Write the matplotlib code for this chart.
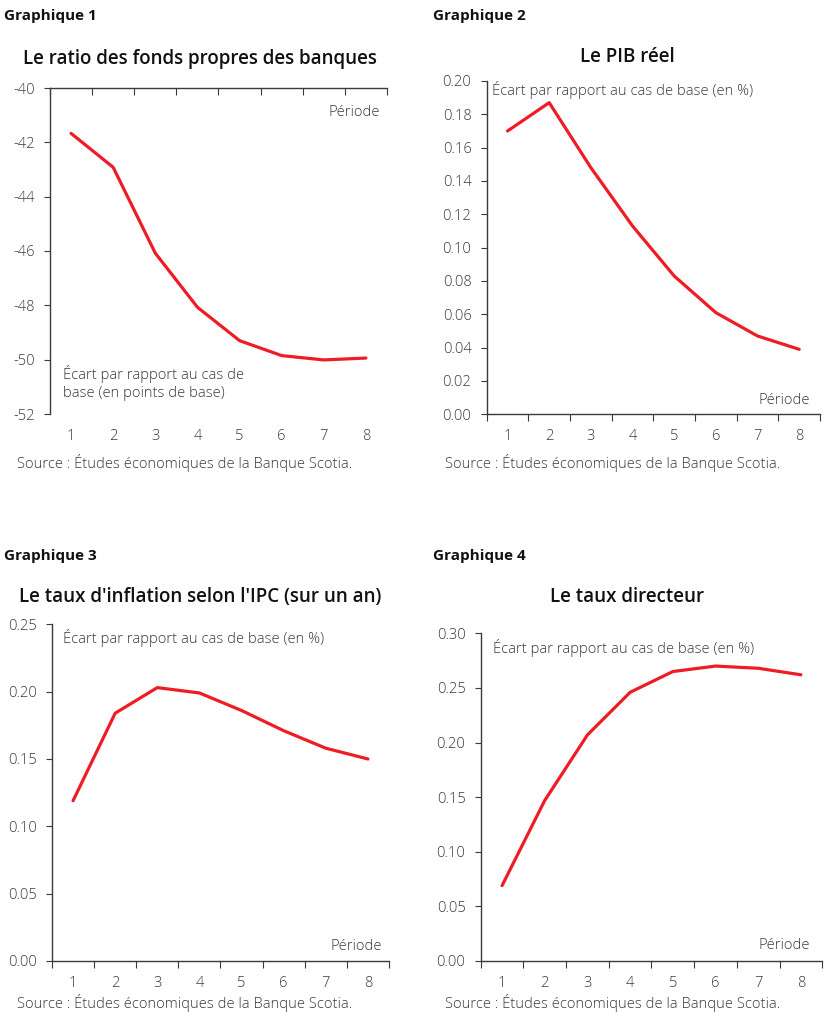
import matplotlib
matplotlib.use('Agg')
import matplotlib.pyplot as plt
import numpy as np

plt.rcParams['font.family'] = ['Open Sans', 'DejaVu Sans']

# Données
periodes = [1, 2, 3, 4, 5, 6, 7, 8]
fonds_propres = [-41.67, -42.92, -46.08, -48.07, -49.30, -49.85, -50.01, -49.94]
pib_reel = [0.170, 0.187, 0.148, 0.113, 0.083, 0.061, 0.047, 0.039]
inflation_ipc = [0.119, 0.184, 0.203, 0.199, 0.186, 0.171, 0.158, 0.150]
taux_directeur = [0.069, 0.147, 0.207, 0.246, 0.265, 0.270, 0.268, 0.262]

source = "Source : Études économiques de la Banque Scotia."
ecart_pct = "Écart par rapport au cas de base (en %)"

W, H = 828, 1023
ROUGE = '#ee1c25'
GRIS = '#3a3a3a'
FS = 10.6
POIDS = 'light'

fig = plt.figure(figsize=(W / 100, H / 100), dpi=100)


def px_axes(left, top, right, bottom):
    return fig.add_axes([left / W, 1 - bottom / H, (right - left) / W, (bottom - top) / H])


def ftext(x, y, s, **kw):
    fig.text(x / W, 1 - y / H, s, **kw)


def style_axes(ax, donnees, yticks, fmt, ylim, axe_haut=False):
    ax.plot(periodes, donnees, color=ROUGE, lw=2.3, solid_capstyle='round')
    ax.set_xlim(0.5, 8.5)
    ax.set_ylim(*ylim)
    ax.set_xticks(np.arange(0.5, 9, 1))
    ax.set_xticklabels([])
    ax.set_xticks(periodes, minor=True)
    ax.set_xticklabels([str(p) for p in periodes], minor=True, fontweight=POIDS)
    ax.set_yticks(yticks)
    ax.set_yticklabels([fmt.format(v) for v in yticks], fontweight=POIDS)
    ax.spines['right'].set_visible(False)
    if axe_haut:
        ax.spines['bottom'].set_visible(False)
        ax.tick_params(axis='x', which='major', top=True, bottom=False,
                       direction='in', length=5, color=GRIS)
    else:
        ax.spines['top'].set_visible(False)
        ax.tick_params(axis='x', which='major', length=5, color=GRIS)
    ax.tick_params(axis='x', which='minor', length=0, pad=10.5,
                   labelsize=FS, labelcolor=GRIS, labelbottom=True)
    ax.tick_params(axis='y', length=4, pad=7, labelsize=FS,
                   labelcolor=GRIS, color=GRIS)
    for s in ax.spines.values():
        s.set_color(GRIS)
        s.set_linewidth(1.0)


def note(ax, x, y, s, ha='left'):
    ax.text(x, y, s, transform=ax.transAxes, ha=ha, va='center', fontsize=FS,
            color=GRIS, fontweight=POIDS, linespacing=1.25)


# Graphique 1
ax1 = px_axes(50, 88, 387, 414)
style_axes(ax1, fonds_propres, np.arange(-52, -39, 2), '{:.0f}', (-52, -40), axe_haut=True)
note(ax1, 0.98, 0.925, 'Période', ha='right')
note(ax1, 0.04, 0.095, 'Écart par rapport au cas de\nbase (en points de base)')

# Graphique 2
ax2 = px_axes(486.7, 81, 820, 414.3)
style_axes(ax2, pib_reel, np.arange(0, 0.201, 0.02), '{:.2f}', (0, 0.20))
note(ax2, 0.97, 0.042, 'Période', ha='right')
note(ax2, 0.015, 0.973, ecart_pct)

# Graphique 3
ax3 = px_axes(52, 624.3, 389, 961)
style_axes(ax3, inflation_ipc, np.arange(0, 0.251, 0.05), '{:.2f}', (0, 0.25))
note(ax3, 0.98, 0.042, 'Période', ha='right')
note(ax3, 0.033, 0.96, ecart_pct)

# Graphique 4
ax4 = px_axes(480.7, 633.3, 822.3, 961)
style_axes(ax4, taux_directeur, np.arange(0, 0.301, 0.05), '{:.2f}', (0, 0.30))
note(ax4, 0.965, 0.048, 'Période', ha='right')
note(ax4, 0.036, 0.955, ecart_pct)

# Titres et sources
titres = ["Le ratio des fonds propres des banques", "Le PIB réel",
          "Le taux d'inflation selon l'IPC (sur un an)", "Le taux directeur"]
centres_titre = [(200, 59), (627, 57), (200, 597), (627, 597)]
graphiques = [(4, 16), (433, 16), (4, 556), (433, 556)]
sources = [(17, 463), (445, 463), (17, 1003), (445, 1003)]

for i in range(4):
    gx, gy = graphiques[i]
    ftext(gx, gy, f'Graphique {i + 1}', ha='left', va='center', fontsize=11,
          fontweight='bold', color='#111111')
    tx, ty = centres_titre[i]
    ftext(tx, ty, titres[i], ha='center', va='center', fontsize=13.5,
          fontweight='semibold', color='#111111')
    sx, sy = sources[i]
    ftext(sx, sy, source, ha='left', va='center', fontsize=FS, color=GRIS,
          fontweight=POIDS)

fig.savefig('out.png', dpi=100)
